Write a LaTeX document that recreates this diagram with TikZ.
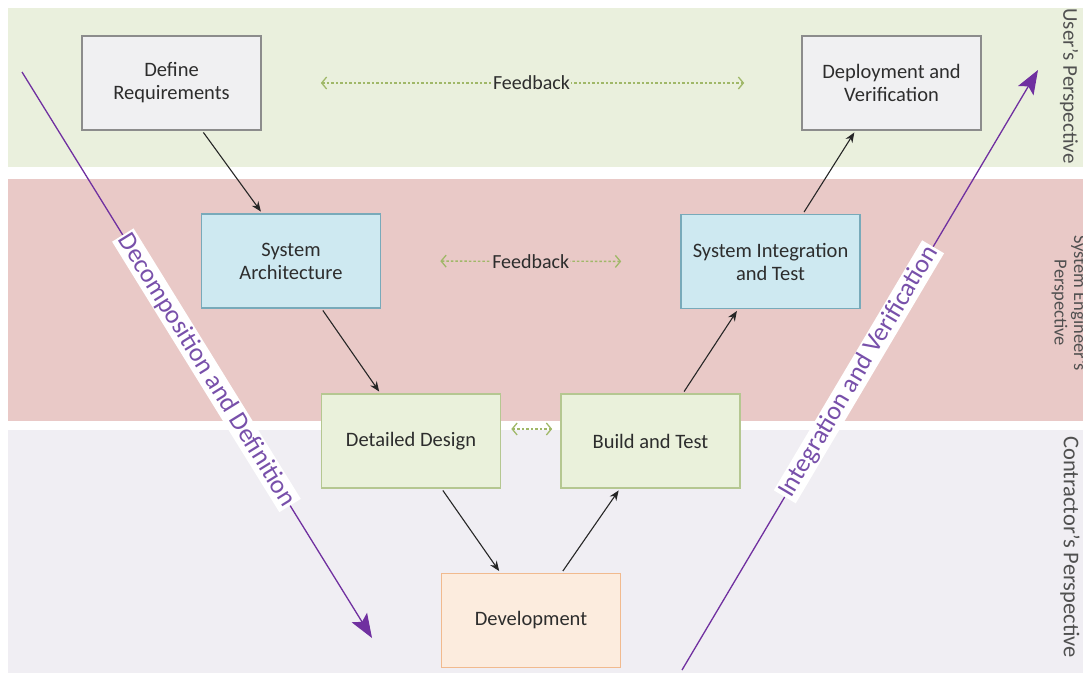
\documentclass[tikz,border=0pt]{standalone}
\usepackage{fontspec}
\setmainfont{Carlito}
\usetikzlibrary{arrows.meta,calc}
\definecolor{bandgreen}{RGB}{234,240,221}
\definecolor{bandred}{RGB}{233,201,199}
\definecolor{bandgray}{RGB}{240,238,243}
\definecolor{grayfill}{RGB}{240,240,242}
\definecolor{grayline}{RGB}{140,140,140}
\definecolor{bluefill}{RGB}{206,233,241}
\definecolor{blueline}{RGB}{120,170,186}
\definecolor{greenfill}{RGB}{234,241,219}
\definecolor{greenline}{RGB}{181,199,145}
\definecolor{orangefill}{RGB}{252,236,222}
\definecolor{orangeline}{RGB}{241,186,142}
\definecolor{fbcolor}{RGB}{160,184,104}
\definecolor{vpurple}{RGB}{112,48,160}
\definecolor{vtext}{RGB}{120,80,170}
\definecolor{txt}{RGB}{45,45,45}
\definecolor{ptxt}{RGB}{80,80,80}
\begin{document}
\begin{tikzpicture}[x=1pt,y=-1pt,
  box/.style={draw, line width=1.6pt, minimum width=179pt, minimum height=94pt,
    align=center, inner sep=0pt, text=txt, font=\fontsize{20.5}{23}\selectfont},
  reqbox/.style={box, fill=grayfill, draw=grayline},
  sysbox/.style={box, fill=bluefill, draw=blueline},
  detbox/.style={box, fill=greenfill, draw=greenline},
  devbox/.style={box, fill=orangefill, draw=orangeline},
  flow/.style={-{Stealth[length=10pt,width=8pt]}, line width=1.1pt, draw=black!85, shorten <=2pt, shorten >=2pt},
  fb/.style={{Straight Barb[length=5pt,width=12pt]}-{Straight Barb[length=5pt,width=12pt]}, draw=fbcolor, line width=1.3pt, dash pattern=on 2.5pt off 2pt},
  fblabel/.style={text=txt, font=\fontsize{20}{23}\selectfont, inner sep=1pt},
  vline/.style={-{Stealth[length=24pt,width=18pt,inset=5pt]}, draw=vpurple, line width=1.3pt},
  vlabel/.style={fill=white, text=vtext, font=\fontsize{26}{30}\selectfont, inner sep=1.5pt, sloped},
  persp/.style={rotate=-90, text=ptxt, align=center, inner sep=0pt}
]
\useasboundingbox (0,0) rectangle (1083,677);
\begin{scope}
\clip (0,0) rectangle (1083,677);
% bands
\fill[bandgreen] (8,8) rectangle (1083,167);
\fill[bandred] (8,179) rectangle (1083,421);
\fill[bandgray] (8,430) rectangle (1083,673);

% perspective labels
\node[persp, font=\fontsize{21}{24}\selectfont] (up) at (1069,86) {User's Perspective};
\node[persp, font=\fontsize{18.5}{19.5}\selectfont] (sp) at (1069.5,303) {System Engineer's\\Perspective};
\node[persp, font=\fontsize{22.5}{24}\selectfont] (cp) at (1070,547) {Contractor's Perspective};

% boxes
\node[reqbox] (req) at (171.5,83) {Define\\Requirements};
\node[reqbox] (dep) at (891.5,83) {Deployment and\\Verification};
\node[sysbox] (arch) at (291,261) {System\\Architecture};
\node[sysbox] (sit) at (770.5,261.5) {System Integration\\and Test};
\node[detbox] (dd) at (411,441) {Detailed Design};
\node[detbox] (bt) at (650.5,441) {Build and Test};
\node[devbox] (dev) at (531,620.5) {Development};

% flow arrows
\draw[flow] ($(req.south west)!0.67!(req.south east)$) -- ($(arch.north west)!0.34!(arch.north east)$);
\draw[flow] ($(arch.south west)!0.67!(arch.south east)$) -- ($(dd.north west)!0.33!(dd.north east)$);
\draw[flow] ($(dd.south west)!0.67!(dd.south east)$) -- ($(dev.north west)!0.33!(dev.north east)$);
\draw[flow] ($(dev.north west)!0.67!(dev.north east)$) -- ($(bt.south west)!0.33!(bt.south east)$);
\draw[flow] ($(bt.north west)!0.68!(bt.north east)$) -- ($(sit.south west)!0.32!(sit.south east)$);
\draw[flow] ($(sit.north west)!0.68!(sit.north east)$) -- ($(dep.south west)!0.30!(dep.south east)$);

% feedback arrows
\draw[fb, shorten <=59pt, shorten >=57pt] (req.east) -- node[fblabel, fill=bandgreen] (fb1) {Feedback} (dep.west);
\draw[fb, shorten <=59pt, shorten >=59pt] (arch.east) -- node[fblabel, fill=bandred] (fb2) {Feedback} (sit.west);
\draw[fb, shorten <=10pt, shorten >=8pt] ([yshift=12pt]dd.east) -- ([yshift=12pt]bt.west);

% V arrows
\coordinate (dA) at (22,72);
\coordinate (dB) at (372,638);
\draw[vline] (dA) -- node[vlabel, pos=0.527] (dlab) {Decomposition and Definition} (dB);
\coordinate (iA) at (682,670);
\coordinate (iB) at (1038,70);
\draw[vline] (iA) -- node[vlabel, pos=0.497] (ilab) {Integration and Verification} (iB);
\end{scope}
\end{tikzpicture}
\end{document}
